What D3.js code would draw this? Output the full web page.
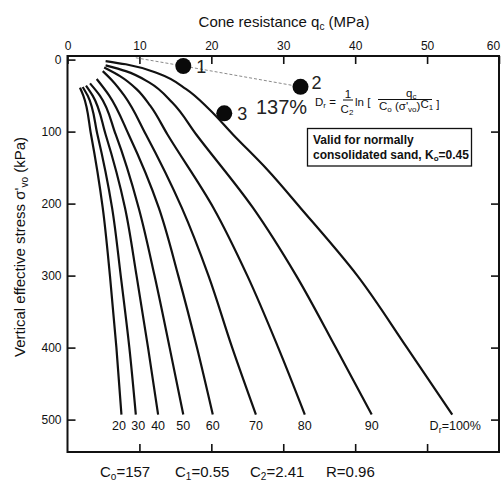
<!DOCTYPE html>
<html>
<head>
<meta charset="utf-8">
<script src="https://cdn.jsdelivr.net/npm/d3@7"></script>
<style>
  body { margin: 0; background: #fff; }
  text { font-family: "Liberation Sans", Arial, Helvetica, sans-serif; fill: #111; }
</style>
</head>
<body>
<svg width="501" height="484"></svg>
<script>
// values: [qc (MPa), sigma'vo (kPa)]
var drLabels = ["20", "30", "40", "50", "60", "70", "80", "90", "100%"];
var curve20 = [[1.74, 39], [2.2, 50], [3.27, 104], [4.9, 206], [5.9, 300], [6.8, 400], [7.5, 493]];
var curve30 = [[2.11, 38], [2.8, 50], [4.16, 104], [6.2, 206], [7.4, 300], [8.6, 400], [9.5, 493]];
var curve40 = [[2.57, 36], [3.5, 50], [5.3, 104], [8.0, 206], [9.6, 300], [11.2, 400], [12.6, 493]];
var curve50 = [[3.13, 33], [4.5, 50], [6.7, 104], [9.9, 206], [12.1, 300], [14.2, 400], [16.1, 493]];
var curve60 = [[4.06, 27], [5.8, 50], [8.5, 104], [12.7, 206], [15.4, 300], [18.0, 400], [20.2, 493]];
var curve70 = [[4.9, 16], [6.3, 30], [7.9, 50], [10.9, 104], [15.9, 206], [19.6, 300], [22.9, 400], [26.2, 493]];
var curve80 = [[5.1, 11], [7.3, 23], [9.6, 41], [11.5, 64], [13.9, 104], [20.3, 206], [25.0, 300], [29.3, 400], [33.0, 493]];
var curve90 = [[5.3, 8], [8.1, 16], [11.4, 32], [14.6, 60], [17.9, 104], [25.8, 206], [31.8, 300], [37.3, 400], [42.3, 493]];
var curve100 = [[5.3, 2], [8.1, 6.5], [12.8, 20], [16.5, 41], [19.7, 69], [23.0, 104], [27.7, 152], [32.4, 206], [40.3, 300], [47.2, 400], [53.5, 493]];

var pointIds = ["1", "2", "3"];
var pointQc = [16.1, 32.4, 21.8];
var pointStress = [8.9, 37.8, 74.6];
var dashedLine = [[9.5, -2.5], [16.1, 8.9], [32.4, 37.8]];

var qcTicks = [0, 10, 20, 30, 40, 50, 60];
var stressTicks = [0, 100, 200, 300, 400, 500];
var labelStress = 514; // where the Dr labels sit

var curves = [curve20, curve30, curve40, curve50, curve60, curve70, curve80, curve90, curve100];

var svg = d3.select("svg");
var x = d3.scaleLinear().domain([0, 60]).range([67.5, 499]),
  y = d3.scaleLinear().domain([-5, 545]).range([56, 452]);

// frame
svg.append("rect")
  .attr("x", x(0)).attr("y", y(-5))
  .attr("width", x(60) - x(0)).attr("height", y(545) - y(-5))
  .attr("fill", "none").attr("stroke", "#111").attr("stroke-width", 2);

function styleAxis(g) {
  g.select(".domain").remove();
  g.selectAll(".tick line").attr("stroke", "#111").attr("stroke-width", 1.6);
  g.attr("font-size", 12);
}

var topAxis = svg.append("g")
  .attr("transform", "translate(0," + y(-5) + ")")
  .call(d3.axisTop(x).tickValues(qcTicks).tickSizeInner(-8).tickSizeOuter(0).tickPadding(6))
  .call(styleAxis);
// last label sits on the page edge, pull it in a bit
topAxis.selectAll(".tick text").filter(function(d) { return d === 60; }).attr("dx", -6);

svg.append("g")
  .attr("transform", "translate(0," + y(545) + ")")
  .call(d3.axisBottom(x).tickValues(qcTicks.slice(1, -1)).tickSizeInner(-8).tickSizeOuter(0).tickFormat(""))
  .call(styleAxis);

svg.append("g")
  .attr("transform", "translate(" + x(0) + ",0)")
  .call(d3.axisLeft(y).tickValues(stressTicks).tickSizeInner(-8).tickSizeOuter(0).tickPadding(6))
  .call(styleAxis);

svg.append("g")
  .attr("transform", "translate(" + x(60) + ",0)")
  .call(d3.axisRight(y).tickValues(stressTicks.slice(1)).tickSizeInner(-8).tickSizeOuter(0).tickFormat(""))
  .call(styleAxis);

// axis titles
var xt = svg.append("text").attr("x", 284).attr("y", 27)
  .attr("text-anchor", "middle").attr("font-size", 15);
xt.append("tspan").text("Cone resistance q");
xt.append("tspan").attr("font-size", 10).attr("dy", 3).text("c");
xt.append("tspan").attr("dy", -3).text(" (MPa)");

var yt = svg.append("text")
  .attr("transform", "translate(25,247) rotate(-90)")
  .attr("text-anchor", "middle").attr("font-size", 15);
yt.append("tspan").text("Vertical effective stress \u03c3'");
yt.append("tspan").attr("font-size", 10).attr("dy", 3).text("vo");
yt.append("tspan").attr("dy", -3).text(" (kPa)");

// dashed line through the points
svg.append("path")
  .datum(dashedLine)
  .attr("d", d3.line().x(function(d) { return x(d[0]); }).y(function(d) { return y(d[1]); }))
  .attr("fill", "none").attr("stroke", "#8a8a8a").attr("stroke-width", 1)
  .attr("stroke-dasharray", "3,2");

// Dr curves
var line = d3.line()
  .x(function(d) { return x(d[0]); })
  .y(function(d) { return y(d[1]); })
  .curve(d3.curveMonotoneY);

svg.selectAll(".dr")
  .data(curves)
  .enter()
  .append("path")
  .attr("class", "dr")
  .attr("d", line)
  .attr("fill", "none")
  .attr("stroke", "#111")
  .attr("stroke-width", 2.2);

// curve labels (first two nudged apart like the original)
var labelNudge = [-2.5, 2.5, 0, 0, 0, 0, 0, 0, 3];
curves.forEach(function(c, i) {
  var end = c[c.length - 1];
  var t = svg.append("text")
    .attr("x", x(end[0]) + labelNudge[i])
    .attr("y", y(labelStress))
    .attr("text-anchor", "middle")
    .attr("font-size", 12.5);
  if (i === 8) {
    t.append("tspan").text("D");
    t.append("tspan").attr("font-size", 9).attr("dy", 3).text("r");
    t.append("tspan").attr("dy", -3).text("=" + drLabels[i]);
  } else {
    t.text(drLabels[i]);
  }
});

// points 1, 2, 3
svg.selectAll(".pt")
  .data(pointIds)
  .enter()
  .append("circle")
  .attr("class", "pt")
  .attr("cx", function(d, i) { return x(pointQc[i]); })
  .attr("cy", function(d, i) { return y(pointStress[i]); })
  .attr("r", 8)
  .attr("fill", "#0a0a0a");

var labelOffsets = [[13, 7], [11, 2], [13, 7]];
svg.selectAll(".ptlabel")
  .data(pointIds)
  .enter()
  .append("text")
  .attr("class", "ptlabel")
  .attr("x", function(d, i) { return x(pointQc[i]) + labelOffsets[i][0]; })
  .attr("y", function(d, i) { return y(pointStress[i]) + labelOffsets[i][1]; })
  .attr("font-size", 18)
  .style("fill", "#222")
  .text(function(d) { return d; });

svg.append("text")
  .attr("x", 256).attr("y", 113.5)
  .attr("font-size", 20)
  .style("fill", "#222")
  .text("137%");

// formula
var f = svg.append("g").attr("font-size", 11.5);
var fd = f.append("text").attr("x", 315).attr("y", 106);
fd.append("tspan").text("D");
fd.append("tspan").attr("font-size", 8).attr("dy", 2).text("r");
fd.append("tspan").attr("dy", -2).text(" =");
f.append("text").attr("x", 348).attr("y", 97.5).attr("text-anchor", "middle").text("1");
f.append("line").attr("x1", 343).attr("x2", 353).attr("y1", 100).attr("y2", 100)
  .attr("stroke", "#111").attr("stroke-width", 1);
var fc2 = f.append("text").attr("x", 347).attr("y", 112.5).attr("text-anchor", "middle");
fc2.append("tspan").text("C");
fc2.append("tspan").attr("font-size", 8).attr("dy", 2).text("2");
f.append("text").attr("x", 355).attr("y", 106).text("ln [");
var fq = f.append("text").attr("x", 406).attr("y", 96.5);
fq.append("tspan").text("q");
fq.append("tspan").attr("font-size", 8).attr("dy", 2).text("c");
f.append("line").attr("x1", 378).attr("x2", 432).attr("y1", 99.5).attr("y2", 99.5)
  .attr("stroke", "#111").attr("stroke-width", 1);
var fden = f.append("text").attr("x", 379).attr("y", 109.5);
fden.append("tspan").text("C");
fden.append("tspan").attr("font-size", 8).attr("dy", 2).text("o");
fden.append("tspan").attr("dy", -2).text(" (\u03c3'");
fden.append("tspan").attr("font-size", 8).attr("dy", 2).text("vo");
fden.append("tspan").attr("dy", -2).text(")");
fden.append("tspan").attr("dy", -2).text("C");
fden.append("tspan").attr("font-size", 8).attr("dy", 2).text("1");
fden.append("tspan").attr("dy", -2).text(" ]");

// note box
svg.append("rect")
  .attr("x", 307.5).attr("y", 128.5).attr("width", 164).attr("height", 37.5)
  .attr("fill", "#fff").attr("stroke", "#111").attr("stroke-width", 1.3);
svg.append("text").attr("x", 313).attr("y", 143.5)
  .attr("font-size", 12).attr("font-weight", "bold")
  .text("Valid for normally");
var nb = svg.append("text").attr("x", 313).attr("y", 158.5)
  .attr("font-size", 12).attr("font-weight", "bold");
nb.append("tspan").text("consolidated sand, K");
nb.append("tspan").attr("font-size", 8).attr("dy", 2).text("o");
nb.append("tspan").attr("dy", -2).text("=0.45");

// constants under the chart
var consts = [["C", "o", "=157", 100], ["C", "1", "=0.55", 175], ["C", "2", "=2.41", 250], ["R", "", "=0.96", 326]];
consts.forEach(function(c) {
  var t = svg.append("text").attr("x", c[3]).attr("y", 477).attr("font-size", 15);
  t.append("tspan").text(c[0]);
  if (c[1]) {
    t.append("tspan").attr("font-size", 10).attr("dy", 3).text(c[1]);
    t.append("tspan").attr("dy", -3).text(c[2]);
  } else {
    t.append("tspan").text(c[2]);
  }
});
</script>
</body>
</html>
